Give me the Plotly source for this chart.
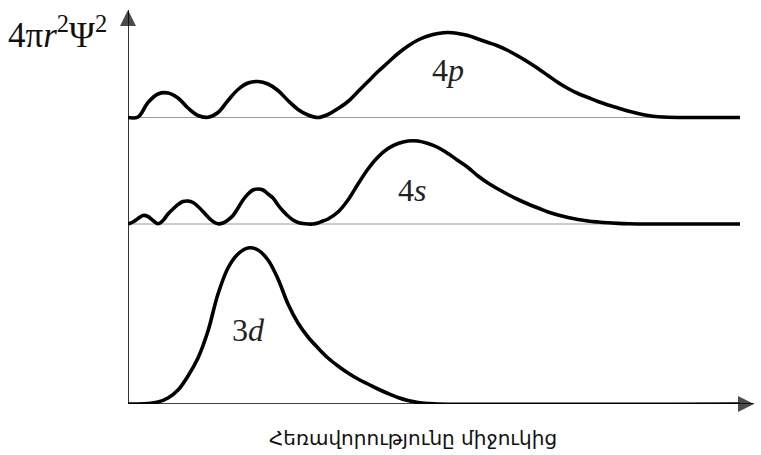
import plotly.graph_objects as go

# Radial distance from the nucleus (arbitrary units) and the radial
# probability 4πr²Ψ² measured above each curve's own baseline.
r_4p = [0, 1, 2, 3, 4, 5, 6, 7, 8, 9, 10, 11, 12, 13, 14, 15, 16, 17, 18, 19,
        20, 21, 22, 23, 24, 25, 26, 27, 28, 29, 30, 31, 32, 33, 34, 35, 36, 37,
        38, 39, 40, 41, 42, 43, 44, 45, 46, 47, 48, 49, 50, 51, 52, 53, 54, 55,
        56, 61.2]
p_4p = [0, 0.05, 1.5, 2.35, 2.45, 1.95, 0.95, 0.2, 0.02, 0.5, 1.7, 2.8, 3.45,
        3.6, 3.35, 2.7, 1.7, 0.8, 0.25, 0.0, 0.3, 0.9, 1.6, 2.6, 3.6, 4.6, 5.5,
        6.4, 7.15, 7.75, 8.15, 8.4, 8.5, 8.4, 8.2, 7.85, 7.5, 7.15, 6.7, 6.15,
        5.55, 4.9, 4.2, 3.5, 2.9, 2.4, 2.0, 1.6, 1.25, 0.95, 0.65, 0.4, 0.2,
        0.08, 0.02, 0, 0, 0]

r_4s = [0, 0.5, 1, 1.5, 2, 2.5, 3, 3.5, 4, 4.5, 5, 5.5, 6, 6.5, 7, 7.5, 8, 8.5,
        9, 9.5, 10, 10.5, 11, 11.5, 12, 12.5, 13, 13.5, 14, 14.5, 15, 15.5, 16,
        16.5, 17, 17.5, 18, 18.5, 19, 19.5, 20, 21, 22, 23, 24, 25, 26, 27, 28,
        29, 30, 31, 32, 33, 34, 35, 36, 37, 38, 39, 40, 41, 42, 43, 44, 45, 46,
        47, 48, 49, 50, 51, 61.2]
p_4s = [0, 0.2, 0.55, 0.85, 0.75, 0.35, 0.02, 0.35, 1.0, 1.5, 1.95, 2.25, 2.3,
        2.15, 1.75, 1.25, 0.7, 0.25, 0.02, 0.1, 0.4, 0.85, 1.6, 2.4, 3.0, 3.4,
        3.5, 3.4, 3.0, 2.6, 1.9, 1.3, 0.8, 0.4, 0.15, 0.05, 0.0, 0.0, 0.1, 0.3,
        0.5, 1.2, 2.4, 4.0, 5.5, 6.7, 7.55, 8.05, 8.3, 8.3, 8.05, 7.65, 7.05,
        6.35, 5.65, 4.8, 4.1, 3.5, 2.95, 2.45, 2.0, 1.6, 1.2, 0.9, 0.65, 0.45,
        0.3, 0.2, 0.12, 0.06, 0.02, 0, 0]

r_3d = [0, 1, 2, 3, 4, 5, 6, 7, 8, 9, 10, 11, 12, 13, 14, 15, 16, 17, 18, 19,
        20, 21, 22, 23, 24, 25, 26, 27, 28, 29, 30, 31, 61.2]
p_3d = [0, 0, 0.05, 0.2, 0.6, 1.4, 2.8, 4.6, 7.3, 11.0, 13.6, 15.0, 15.6, 15.4,
        14.4, 12.5, 10.0, 8.1, 6.7, 5.6, 4.6, 3.8, 3.1, 2.5, 2.0, 1.5, 1.05,
        0.65, 0.35, 0.15, 0.05, 0, 0]

orbital_labels = ["4<i>p</i>", "4<i>s</i>", "3<i>d</i>"]
label_r = [32.0, 28.4, 12.0]
label_p = [4.8, 3.4, 7.4]

y_title = "4π<i>r</i><sup>2</sup>Ψ<sup>2</sup>"
x_title = "Հեռավորությունը միջուկից"

# vertical offsets that stack the three distributions
base_4p, base_4s, base_3d = 28.65, 18.0, 0.0
R_MAX, Y_MAX = 62.7, 39.6

fig = go.Figure()

for r, p, base in [(r_4p, p_4p, base_4p), (r_4s, p_4s, base_4s), (r_3d, p_3d, base_3d)]:
    fig.add_trace(go.Scatter(
        x=r, y=[base + v for v in p], mode="lines",
        line=dict(color="black", width=3.6, shape="spline", smoothing=1.0),
        hoverinfo="skip", showlegend=False))

# coordinate axes drawn as lines ending in arrowheads
fig.add_trace(go.Scatter(
    x=[0, 0], y=[0, Y_MAX - 0.2], mode="lines+markers",
    line=dict(color="black", width=1.6),
    marker=dict(symbol=["circle", "arrow-up"], size=[0, 16], color="black",
                line=dict(width=0)),
    cliponaxis=False, hoverinfo="skip", showlegend=False))
fig.add_trace(go.Scatter(
    x=[0, R_MAX - 0.1], y=[0, 0], mode="lines+markers",
    line=dict(color="black", width=1.6),
    marker=dict(symbol=["circle", "arrow-right"], size=[0, 16], color="black",
                line=dict(width=0)),
    cliponaxis=False, hoverinfo="skip", showlegend=False))

shapes = []
for base in (base_4p, base_4s):
    shapes.append(dict(type="line", xref="x", yref="y", x0=0, x1=61.2, y0=base, y1=base,
                       line=dict(color="#9a9a9a", width=1), layer="below"))

annotations = []
bases = [base_4p, base_4s, base_3d]
for txt, rx, py, base in zip(orbital_labels, label_r, label_p, bases):
    annotations.append(dict(x=rx, y=base + py, xref="x", yref="y", text=txt, showarrow=False,
                            font=dict(family="Liberation Serif", size=32, color="#222"),
                            xanchor="center", yanchor="middle"))

annotations.append(dict(x=-0.195, y=0.938, xref="paper", yref="paper", text=y_title,
                        showarrow=False,
                        font=dict(family="Liberation Serif", size=35, color="#111"),
                        xanchor="left", yanchor="middle"))
annotations.append(dict(x=0.455, y=-0.086, xref="paper", yref="paper", text=x_title,
                        showarrow=False,
                        font=dict(family="DejaVu Sans", size=20, color="#111"),
                        xanchor="center", yanchor="middle"))

fig.update_layout(
    width=761, height=455,
    margin=dict(l=128, r=6, t=8, b=51),
    paper_bgcolor="white", plot_bgcolor="white",
    xaxis=dict(range=[0, R_MAX], visible=False, fixedrange=True),
    yaxis=dict(range=[0, Y_MAX], visible=False, fixedrange=True),
    shapes=shapes, annotations=annotations,
)

fig.write_html("out.html")
